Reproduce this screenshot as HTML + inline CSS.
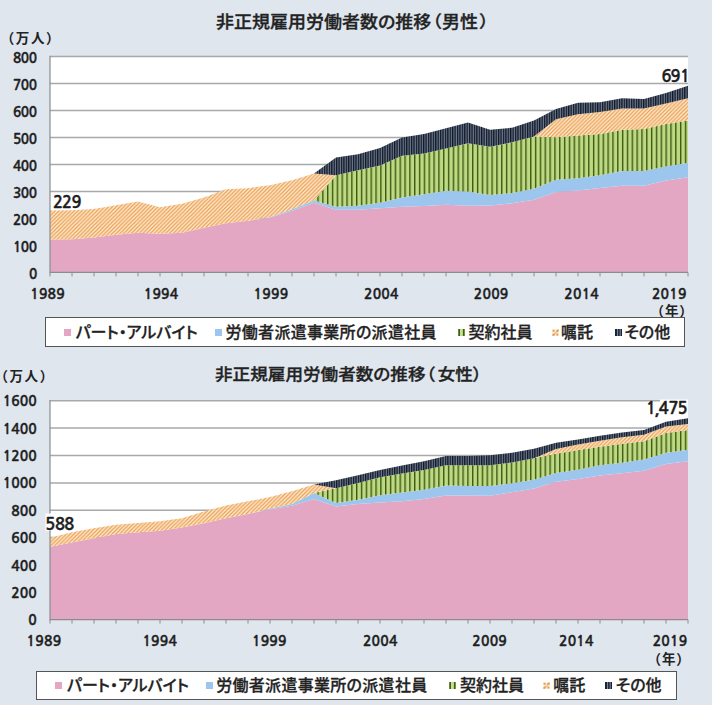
<!DOCTYPE html>
<html><head><meta charset="utf-8"><style>
html,body{margin:0;padding:0;background:#dfe6ee;}
body{width:712px;height:705px;overflow:hidden;position:relative;}
svg{position:absolute;left:0;top:0;}
.t{position:absolute;white-space:nowrap;font-family:'Liberation Sans','Noto Sans CJK JP',sans-serif;color:#222;line-height:1;}
.title{font-size:18px;font-weight:500;-webkit-text-stroke:0.35px #222;font-feature-settings:"palt";transform:scaleY(0.92);transform-origin:0 50%;}
.unit{font-size:13.5px;font-weight:bold;letter-spacing:1.6px;}
.leg{position:absolute;background:#fff;border:1.5px solid #555;box-sizing:border-box;}
.li{font-size:16px;font-weight:500;-webkit-text-stroke:0.3px #222;font-feature-settings:"palt";}
.mk{position:absolute;width:7px;height:7px;}
</style></head><body>
<svg width="712" height="705" viewBox="0 0 712 705">
<defs>
<pattern id="pg" x="3.06" y="0" width="4.835" height="10" patternUnits="userSpaceOnUse">
<rect width="4.835" height="10" fill="#bfd982"/><rect x="0" width="1.4" height="10" fill="#3a5914"/></pattern>
<pattern id="pn" x="0" y="0" width="2.4175" height="10" patternUnits="userSpaceOnUse">
<rect width="2.4175" height="10" fill="#111827"/><rect x="1.3" width="1.1" height="10" fill="#6e7b8e"/></pattern>
<pattern id="ph" x="0" y="0" width="3.8" height="3.8" patternUnits="userSpaceOnUse">
<rect width="3.8" height="3.8" fill="#fff0d6"/>
<path d="M-1,4.8 L4.8,-1 M-1,1 L1,-1 M2.8,4.8 L4.8,2.8" stroke="#eba25a" stroke-width="1.45"/></pattern>
</defs>
<rect width="712" height="705" fill="#dfe6ee"/>
<rect x="50" y="56.4" width="638" height="215.99999999999997" fill="#fff"/>
<line x1="50" y1="245.6" x2="688" y2="245.6" stroke="#a9a9a9" stroke-width="1.5"/>
<line x1="50" y1="218.6" x2="688" y2="218.6" stroke="#a9a9a9" stroke-width="1.5"/>
<line x1="50" y1="191.6" x2="688" y2="191.6" stroke="#a9a9a9" stroke-width="1.5"/>
<line x1="50" y1="164.6" x2="688" y2="164.6" stroke="#a9a9a9" stroke-width="1.5"/>
<line x1="50" y1="137.6" x2="688" y2="137.6" stroke="#a9a9a9" stroke-width="1.5"/>
<line x1="50" y1="110.6" x2="688" y2="110.6" stroke="#a9a9a9" stroke-width="1.5"/>
<line x1="50" y1="83.6" x2="688" y2="83.6" stroke="#a9a9a9" stroke-width="1.5"/>
<line x1="50" y1="56.6" x2="688" y2="56.6" stroke="#a9a9a9" stroke-width="1.5"/>
<path d="M50.0,239.46 L72.0,239.19 L94.0,237.57 L116.0,234.87 L138.0,232.71 L160.0,233.79 L182.0,232.71 L204.0,227.85 L226.0,223.26 L248.0,220.83 L270.0,217.59 L292.0,210.84 L314.0,202.74 L336.0,209.76 L358.0,209.76 L380.0,208.14 L402.0,206.79 L424.0,205.98 L446.0,204.63 L468.0,205.71 L490.0,205.44 L512.0,203.28 L534.0,199.77 L556.0,191.94 L578.0,190.59 L600.0,187.89 L622.0,185.73 L644.0,185.73 L666.0,180.60 L688.0,177.36 L688.0,272.40 L666.0,272.40 L644.0,272.40 L622.0,272.40 L600.0,272.40 L578.0,272.40 L556.0,272.40 L534.0,272.40 L512.0,272.40 L490.0,272.40 L468.0,272.40 L446.0,272.40 L424.0,272.40 L402.0,272.40 L380.0,272.40 L358.0,272.40 L336.0,272.40 L314.0,272.40 L292.0,272.40 L270.0,272.40 L248.0,272.40 L226.0,272.40 L204.0,272.40 L182.0,272.40 L160.0,272.40 L138.0,272.40 L116.0,272.40 L94.0,272.40 L72.0,272.40 L50.0,272.40 Z" fill="#e4a7c3"/>
<path d="M50.0,239.46 L72.0,239.19 L94.0,237.57 L116.0,234.87 L138.0,232.71 L160.0,233.79 L182.0,232.71 L204.0,227.85 L226.0,223.26 L248.0,220.83 L270.0,217.05 L292.0,209.22 L314.0,200.58 L336.0,206.79 L358.0,205.71 L380.0,202.74 L402.0,197.61 L424.0,194.37 L446.0,190.86 L468.0,191.40 L490.0,194.91 L512.0,193.02 L534.0,188.70 L556.0,179.79 L578.0,178.17 L600.0,175.20 L622.0,170.88 L644.0,170.88 L666.0,166.56 L688.0,162.78 L688.0,177.36 L666.0,180.60 L644.0,185.73 L622.0,185.73 L600.0,187.89 L578.0,190.59 L556.0,191.94 L534.0,199.77 L512.0,203.28 L490.0,205.44 L468.0,205.71 L446.0,204.63 L424.0,205.98 L402.0,206.79 L380.0,208.14 L358.0,209.76 L336.0,209.76 L314.0,202.74 L292.0,210.84 L270.0,217.59 L248.0,220.83 L226.0,223.26 L204.0,227.85 L182.0,232.71 L160.0,233.79 L138.0,232.71 L116.0,234.87 L94.0,237.57 L72.0,239.19 L50.0,239.46 Z" fill="#9dc6ee"/>
<path d="M50.0,239.46 L72.0,239.19 L94.0,237.57 L116.0,234.87 L138.0,232.71 L160.0,233.79 L182.0,232.71 L204.0,227.85 L226.0,223.26 L248.0,220.83 L270.0,217.05 L292.0,209.22 L314.0,200.58 L336.0,175.20 L358.0,170.34 L380.0,165.48 L402.0,155.76 L424.0,153.60 L446.0,148.47 L468.0,143.34 L490.0,146.85 L512.0,142.26 L534.0,136.59 L556.0,137.13 L578.0,135.51 L600.0,133.89 L622.0,129.84 L644.0,129.03 L666.0,123.90 L688.0,120.39 L688.0,162.78 L666.0,166.56 L644.0,170.88 L622.0,170.88 L600.0,175.20 L578.0,178.17 L556.0,179.79 L534.0,188.70 L512.0,193.02 L490.0,194.91 L468.0,191.40 L446.0,190.86 L424.0,194.37 L402.0,197.61 L380.0,202.74 L358.0,205.71 L336.0,206.79 L314.0,200.58 L292.0,209.22 L270.0,217.05 L248.0,220.83 L226.0,223.26 L204.0,227.85 L182.0,232.71 L160.0,233.79 L138.0,232.71 L116.0,234.87 L94.0,237.57 L72.0,239.19 L50.0,239.46 Z" fill="url(#pg)"/>
<path d="M50.0,210.57 L72.0,210.30 L94.0,208.95 L116.0,205.17 L138.0,201.39 L160.0,207.33 L182.0,203.82 L204.0,197.61 L226.0,189.24 L248.0,188.16 L270.0,185.19 L292.0,180.33 L314.0,173.58 L336.0,175.20 L358.0,170.34 L380.0,165.48 L402.0,155.76 L424.0,153.60 L446.0,148.47 L468.0,143.34 L490.0,146.85 L512.0,142.26 L534.0,136.59 L556.0,119.31 L578.0,114.18 L600.0,112.02 L622.0,108.51 L644.0,108.51 L666.0,103.38 L688.0,98.25 L688.0,120.39 L666.0,123.90 L644.0,129.03 L622.0,129.84 L600.0,133.89 L578.0,135.51 L556.0,137.13 L534.0,136.59 L512.0,142.26 L490.0,146.85 L468.0,143.34 L446.0,148.47 L424.0,153.60 L402.0,155.76 L380.0,165.48 L358.0,170.34 L336.0,175.20 L314.0,200.58 L292.0,209.22 L270.0,217.05 L248.0,220.83 L226.0,223.26 L204.0,227.85 L182.0,232.71 L160.0,233.79 L138.0,232.71 L116.0,234.87 L94.0,237.57 L72.0,239.19 L50.0,239.46 Z" fill="url(#ph)"/>
<path d="M50.0,210.57 L72.0,210.30 L94.0,208.95 L116.0,205.17 L138.0,201.39 L160.0,207.33 L182.0,203.82 L204.0,197.61 L226.0,189.24 L248.0,188.16 L270.0,185.19 L292.0,180.33 L314.0,173.58 L336.0,157.38 L358.0,154.14 L380.0,147.93 L402.0,137.40 L424.0,133.89 L446.0,128.22 L468.0,122.55 L490.0,129.84 L512.0,127.68 L534.0,120.39 L556.0,109.05 L578.0,102.84 L600.0,102.30 L622.0,98.25 L644.0,99.06 L666.0,93.12 L688.0,85.83 L688.0,98.25 L666.0,103.38 L644.0,108.51 L622.0,108.51 L600.0,112.02 L578.0,114.18 L556.0,119.31 L534.0,136.59 L512.0,142.26 L490.0,146.85 L468.0,143.34 L446.0,148.47 L424.0,153.60 L402.0,155.76 L380.0,165.48 L358.0,170.34 L336.0,175.20 L314.0,173.58 L292.0,180.33 L270.0,185.19 L248.0,188.16 L226.0,189.24 L204.0,197.61 L182.0,203.82 L160.0,207.33 L138.0,201.39 L116.0,205.17 L94.0,208.95 L72.0,210.30 L50.0,210.57 Z" fill="url(#pn)"/>
<line x1="50" y1="55.8" x2="50" y2="273.0" stroke="#8c8c8c" stroke-width="1.2"/>
<line x1="50" y1="272.4" x2="688" y2="272.4" stroke="#8c8c8c" stroke-width="1.2"/>
<line x1="50.0" y1="272.4" x2="50.0" y2="276.4" stroke="#8c8c8c" stroke-width="1"/>
<line x1="72.0" y1="272.4" x2="72.0" y2="276.4" stroke="#8c8c8c" stroke-width="1"/>
<line x1="94.0" y1="272.4" x2="94.0" y2="276.4" stroke="#8c8c8c" stroke-width="1"/>
<line x1="116.0" y1="272.4" x2="116.0" y2="276.4" stroke="#8c8c8c" stroke-width="1"/>
<line x1="138.0" y1="272.4" x2="138.0" y2="276.4" stroke="#8c8c8c" stroke-width="1"/>
<line x1="160.0" y1="272.4" x2="160.0" y2="276.4" stroke="#8c8c8c" stroke-width="1"/>
<line x1="182.0" y1="272.4" x2="182.0" y2="276.4" stroke="#8c8c8c" stroke-width="1"/>
<line x1="204.0" y1="272.4" x2="204.0" y2="276.4" stroke="#8c8c8c" stroke-width="1"/>
<line x1="226.0" y1="272.4" x2="226.0" y2="276.4" stroke="#8c8c8c" stroke-width="1"/>
<line x1="248.0" y1="272.4" x2="248.0" y2="276.4" stroke="#8c8c8c" stroke-width="1"/>
<line x1="270.0" y1="272.4" x2="270.0" y2="276.4" stroke="#8c8c8c" stroke-width="1"/>
<line x1="292.0" y1="272.4" x2="292.0" y2="276.4" stroke="#8c8c8c" stroke-width="1"/>
<line x1="314.0" y1="272.4" x2="314.0" y2="276.4" stroke="#8c8c8c" stroke-width="1"/>
<line x1="336.0" y1="272.4" x2="336.0" y2="276.4" stroke="#8c8c8c" stroke-width="1"/>
<line x1="358.0" y1="272.4" x2="358.0" y2="276.4" stroke="#8c8c8c" stroke-width="1"/>
<line x1="380.0" y1="272.4" x2="380.0" y2="276.4" stroke="#8c8c8c" stroke-width="1"/>
<line x1="402.0" y1="272.4" x2="402.0" y2="276.4" stroke="#8c8c8c" stroke-width="1"/>
<line x1="424.0" y1="272.4" x2="424.0" y2="276.4" stroke="#8c8c8c" stroke-width="1"/>
<line x1="446.0" y1="272.4" x2="446.0" y2="276.4" stroke="#8c8c8c" stroke-width="1"/>
<line x1="468.0" y1="272.4" x2="468.0" y2="276.4" stroke="#8c8c8c" stroke-width="1"/>
<line x1="490.0" y1="272.4" x2="490.0" y2="276.4" stroke="#8c8c8c" stroke-width="1"/>
<line x1="512.0" y1="272.4" x2="512.0" y2="276.4" stroke="#8c8c8c" stroke-width="1"/>
<line x1="534.0" y1="272.4" x2="534.0" y2="276.4" stroke="#8c8c8c" stroke-width="1"/>
<line x1="556.0" y1="272.4" x2="556.0" y2="276.4" stroke="#8c8c8c" stroke-width="1"/>
<line x1="578.0" y1="272.4" x2="578.0" y2="276.4" stroke="#8c8c8c" stroke-width="1"/>
<line x1="600.0" y1="272.4" x2="600.0" y2="276.4" stroke="#8c8c8c" stroke-width="1"/>
<line x1="622.0" y1="272.4" x2="622.0" y2="276.4" stroke="#8c8c8c" stroke-width="1"/>
<line x1="644.0" y1="272.4" x2="644.0" y2="276.4" stroke="#8c8c8c" stroke-width="1"/>
<line x1="666.0" y1="272.4" x2="666.0" y2="276.4" stroke="#8c8c8c" stroke-width="1"/>
<line x1="688.0" y1="272.4" x2="688.0" y2="276.4" stroke="#8c8c8c" stroke-width="1"/><rect x="50" y="400.5" width="638" height="219.10000000000002" fill="#fff"/>
<line x1="50" y1="592.4" x2="688" y2="592.4" stroke="#a9a9a9" stroke-width="1.5"/>
<line x1="50" y1="565.0" x2="688" y2="565.0" stroke="#a9a9a9" stroke-width="1.5"/>
<line x1="50" y1="537.6" x2="688" y2="537.6" stroke="#a9a9a9" stroke-width="1.5"/>
<line x1="50" y1="510.2" x2="688" y2="510.2" stroke="#a9a9a9" stroke-width="1.5"/>
<line x1="50" y1="482.9" x2="688" y2="482.9" stroke="#a9a9a9" stroke-width="1.5"/>
<line x1="50" y1="455.5" x2="688" y2="455.5" stroke="#a9a9a9" stroke-width="1.5"/>
<line x1="50" y1="428.1" x2="688" y2="428.1" stroke="#a9a9a9" stroke-width="1.5"/>
<line x1="50" y1="400.7" x2="688" y2="400.7" stroke="#a9a9a9" stroke-width="1.5"/>
<path d="M50.0,546.75 L72.0,542.50 L94.0,538.26 L116.0,534.01 L138.0,532.37 L160.0,530.86 L182.0,527.44 L204.0,523.20 L226.0,518.13 L248.0,513.88 L270.0,509.37 L292.0,505.67 L314.0,498.96 L336.0,506.49 L358.0,504.02 L380.0,502.38 L402.0,501.15 L424.0,499.10 L446.0,495.53 L468.0,495.53 L490.0,495.67 L512.0,492.25 L534.0,488.55 L556.0,481.84 L578.0,478.97 L600.0,475.54 L622.0,473.35 L644.0,470.75 L666.0,463.90 L688.0,461.30 L688.0,619.60 L666.0,619.60 L644.0,619.60 L622.0,619.60 L600.0,619.60 L578.0,619.60 L556.0,619.60 L534.0,619.60 L512.0,619.60 L490.0,619.60 L468.0,619.60 L446.0,619.60 L424.0,619.60 L402.0,619.60 L380.0,619.60 L358.0,619.60 L336.0,619.60 L314.0,619.60 L292.0,619.60 L270.0,619.60 L248.0,619.60 L226.0,619.60 L204.0,619.60 L182.0,619.60 L160.0,619.60 L138.0,619.60 L116.0,619.60 L94.0,619.60 L72.0,619.60 L50.0,619.60 Z" fill="#e4a7c3"/>
<path d="M50.0,546.75 L72.0,542.50 L94.0,538.26 L116.0,534.01 L138.0,532.37 L160.0,530.86 L182.0,527.44 L204.0,523.20 L226.0,518.13 L248.0,513.88 L270.0,508.41 L292.0,503.89 L314.0,493.07 L336.0,502.93 L358.0,499.78 L380.0,495.26 L402.0,492.52 L424.0,489.78 L446.0,485.54 L468.0,486.09 L490.0,485.95 L512.0,483.35 L534.0,479.79 L556.0,472.94 L578.0,469.65 L600.0,465.13 L622.0,462.67 L644.0,459.38 L666.0,452.81 L688.0,449.80 L688.0,461.30 L666.0,463.90 L644.0,470.75 L622.0,473.35 L600.0,475.54 L578.0,478.97 L556.0,481.84 L534.0,488.55 L512.0,492.25 L490.0,495.67 L468.0,495.53 L446.0,495.53 L424.0,499.10 L402.0,501.15 L380.0,502.38 L358.0,504.02 L336.0,506.49 L314.0,498.96 L292.0,505.67 L270.0,509.37 L248.0,513.88 L226.0,518.13 L204.0,523.20 L182.0,527.44 L160.0,530.86 L138.0,532.37 L116.0,534.01 L94.0,538.26 L72.0,542.50 L50.0,546.75 Z" fill="#9dc6ee"/>
<path d="M50.0,546.75 L72.0,542.50 L94.0,538.26 L116.0,534.01 L138.0,532.37 L160.0,530.86 L182.0,527.44 L204.0,523.20 L226.0,518.13 L248.0,513.88 L270.0,508.41 L292.0,503.89 L314.0,493.07 L336.0,488.14 L358.0,482.94 L380.0,477.32 L402.0,473.62 L424.0,470.06 L446.0,465.27 L468.0,465.27 L490.0,465.13 L512.0,462.40 L534.0,458.29 L556.0,453.63 L578.0,450.07 L600.0,446.65 L622.0,443.64 L644.0,441.17 L666.0,433.09 L688.0,429.94 L688.0,449.80 L666.0,452.81 L644.0,459.38 L622.0,462.67 L600.0,465.13 L578.0,469.65 L556.0,472.94 L534.0,479.79 L512.0,483.35 L490.0,485.95 L468.0,486.09 L446.0,485.54 L424.0,489.78 L402.0,492.52 L380.0,495.26 L358.0,499.78 L336.0,502.93 L314.0,493.07 L292.0,503.89 L270.0,508.41 L248.0,513.88 L226.0,518.13 L204.0,523.20 L182.0,527.44 L160.0,530.86 L138.0,532.37 L116.0,534.01 L94.0,538.26 L72.0,542.50 L50.0,546.75 Z" fill="url(#pg)"/>
<path d="M50.0,537.71 L72.0,532.37 L94.0,528.13 L116.0,524.84 L138.0,523.06 L160.0,521.28 L182.0,518.13 L204.0,511.42 L226.0,505.53 L248.0,501.29 L270.0,497.04 L292.0,491.29 L314.0,484.58 L336.0,488.14 L358.0,482.94 L380.0,477.32 L402.0,473.62 L424.0,470.06 L446.0,465.27 L468.0,465.27 L490.0,465.13 L512.0,462.40 L534.0,458.29 L556.0,449.11 L578.0,444.59 L600.0,440.76 L622.0,437.34 L644.0,434.87 L666.0,426.52 L688.0,424.05 L688.0,429.94 L666.0,433.09 L644.0,441.17 L622.0,443.64 L600.0,446.65 L578.0,450.07 L556.0,453.63 L534.0,458.29 L512.0,462.40 L490.0,465.13 L468.0,465.27 L446.0,465.27 L424.0,470.06 L402.0,473.62 L380.0,477.32 L358.0,482.94 L336.0,488.14 L314.0,493.07 L292.0,503.89 L270.0,508.41 L248.0,513.88 L226.0,518.13 L204.0,523.20 L182.0,527.44 L160.0,530.86 L138.0,532.37 L116.0,534.01 L94.0,538.26 L72.0,542.50 L50.0,546.75 Z" fill="url(#ph)"/>
<path d="M50.0,537.71 L72.0,532.37 L94.0,528.13 L116.0,524.84 L138.0,523.06 L160.0,521.28 L182.0,518.13 L204.0,511.42 L226.0,505.53 L248.0,501.29 L270.0,497.04 L292.0,491.29 L314.0,484.58 L336.0,480.20 L358.0,475.13 L380.0,469.93 L402.0,465.55 L424.0,461.16 L446.0,455.96 L468.0,455.96 L490.0,455.28 L512.0,452.81 L534.0,448.84 L556.0,442.68 L578.0,439.39 L600.0,435.69 L622.0,432.54 L644.0,429.94 L666.0,421.73 L688.0,418.30 L688.0,424.05 L666.0,426.52 L644.0,434.87 L622.0,437.34 L600.0,440.76 L578.0,444.59 L556.0,449.11 L534.0,458.29 L512.0,462.40 L490.0,465.13 L468.0,465.27 L446.0,465.27 L424.0,470.06 L402.0,473.62 L380.0,477.32 L358.0,482.94 L336.0,488.14 L314.0,484.58 L292.0,491.29 L270.0,497.04 L248.0,501.29 L226.0,505.53 L204.0,511.42 L182.0,518.13 L160.0,521.28 L138.0,523.06 L116.0,524.84 L94.0,528.13 L72.0,532.37 L50.0,537.71 Z" fill="url(#pn)"/>
<line x1="50" y1="399.9" x2="50" y2="620.2" stroke="#8c8c8c" stroke-width="1.2"/>
<line x1="50" y1="619.6" x2="688" y2="619.6" stroke="#8c8c8c" stroke-width="1.2"/>
<line x1="50.0" y1="619.6" x2="50.0" y2="623.6" stroke="#8c8c8c" stroke-width="1"/>
<line x1="72.0" y1="619.6" x2="72.0" y2="623.6" stroke="#8c8c8c" stroke-width="1"/>
<line x1="94.0" y1="619.6" x2="94.0" y2="623.6" stroke="#8c8c8c" stroke-width="1"/>
<line x1="116.0" y1="619.6" x2="116.0" y2="623.6" stroke="#8c8c8c" stroke-width="1"/>
<line x1="138.0" y1="619.6" x2="138.0" y2="623.6" stroke="#8c8c8c" stroke-width="1"/>
<line x1="160.0" y1="619.6" x2="160.0" y2="623.6" stroke="#8c8c8c" stroke-width="1"/>
<line x1="182.0" y1="619.6" x2="182.0" y2="623.6" stroke="#8c8c8c" stroke-width="1"/>
<line x1="204.0" y1="619.6" x2="204.0" y2="623.6" stroke="#8c8c8c" stroke-width="1"/>
<line x1="226.0" y1="619.6" x2="226.0" y2="623.6" stroke="#8c8c8c" stroke-width="1"/>
<line x1="248.0" y1="619.6" x2="248.0" y2="623.6" stroke="#8c8c8c" stroke-width="1"/>
<line x1="270.0" y1="619.6" x2="270.0" y2="623.6" stroke="#8c8c8c" stroke-width="1"/>
<line x1="292.0" y1="619.6" x2="292.0" y2="623.6" stroke="#8c8c8c" stroke-width="1"/>
<line x1="314.0" y1="619.6" x2="314.0" y2="623.6" stroke="#8c8c8c" stroke-width="1"/>
<line x1="336.0" y1="619.6" x2="336.0" y2="623.6" stroke="#8c8c8c" stroke-width="1"/>
<line x1="358.0" y1="619.6" x2="358.0" y2="623.6" stroke="#8c8c8c" stroke-width="1"/>
<line x1="380.0" y1="619.6" x2="380.0" y2="623.6" stroke="#8c8c8c" stroke-width="1"/>
<line x1="402.0" y1="619.6" x2="402.0" y2="623.6" stroke="#8c8c8c" stroke-width="1"/>
<line x1="424.0" y1="619.6" x2="424.0" y2="623.6" stroke="#8c8c8c" stroke-width="1"/>
<line x1="446.0" y1="619.6" x2="446.0" y2="623.6" stroke="#8c8c8c" stroke-width="1"/>
<line x1="468.0" y1="619.6" x2="468.0" y2="623.6" stroke="#8c8c8c" stroke-width="1"/>
<line x1="490.0" y1="619.6" x2="490.0" y2="623.6" stroke="#8c8c8c" stroke-width="1"/>
<line x1="512.0" y1="619.6" x2="512.0" y2="623.6" stroke="#8c8c8c" stroke-width="1"/>
<line x1="534.0" y1="619.6" x2="534.0" y2="623.6" stroke="#8c8c8c" stroke-width="1"/>
<line x1="556.0" y1="619.6" x2="556.0" y2="623.6" stroke="#8c8c8c" stroke-width="1"/>
<line x1="578.0" y1="619.6" x2="578.0" y2="623.6" stroke="#8c8c8c" stroke-width="1"/>
<line x1="600.0" y1="619.6" x2="600.0" y2="623.6" stroke="#8c8c8c" stroke-width="1"/>
<line x1="622.0" y1="619.6" x2="622.0" y2="623.6" stroke="#8c8c8c" stroke-width="1"/>
<line x1="644.0" y1="619.6" x2="644.0" y2="623.6" stroke="#8c8c8c" stroke-width="1"/>
<line x1="666.0" y1="619.6" x2="666.0" y2="623.6" stroke="#8c8c8c" stroke-width="1"/>
<line x1="688.0" y1="619.6" x2="688.0" y2="623.6" stroke="#8c8c8c" stroke-width="1"/><text x="28.88" y="278.60" font-size="13.7" letter-spacing="-0.3" font-family="NanumGothic, Liberation Sans, sans-serif" font-weight="bold" fill="#1e1e1e" stroke="#1e1e1e" stroke-width="0.35">0</text><text x="12.88" y="251.60" font-size="13.7" letter-spacing="-0.3" font-family="NanumGothic, Liberation Sans, sans-serif" font-weight="bold" fill="#1e1e1e" stroke="#1e1e1e" stroke-width="0.35">100</text><text x="12.88" y="224.60" font-size="13.7" letter-spacing="-0.3" font-family="NanumGothic, Liberation Sans, sans-serif" font-weight="bold" fill="#1e1e1e" stroke="#1e1e1e" stroke-width="0.35">200</text><text x="12.88" y="197.60" font-size="13.7" letter-spacing="-0.3" font-family="NanumGothic, Liberation Sans, sans-serif" font-weight="bold" fill="#1e1e1e" stroke="#1e1e1e" stroke-width="0.35">300</text><text x="12.88" y="170.60" font-size="13.7" letter-spacing="-0.3" font-family="NanumGothic, Liberation Sans, sans-serif" font-weight="bold" fill="#1e1e1e" stroke="#1e1e1e" stroke-width="0.35">400</text><text x="12.88" y="143.60" font-size="13.7" letter-spacing="-0.3" font-family="NanumGothic, Liberation Sans, sans-serif" font-weight="bold" fill="#1e1e1e" stroke="#1e1e1e" stroke-width="0.35">500</text><text x="12.88" y="116.60" font-size="13.7" letter-spacing="-0.3" font-family="NanumGothic, Liberation Sans, sans-serif" font-weight="bold" fill="#1e1e1e" stroke="#1e1e1e" stroke-width="0.35">600</text><text x="12.88" y="89.60" font-size="13.7" letter-spacing="-0.3" font-family="NanumGothic, Liberation Sans, sans-serif" font-weight="bold" fill="#1e1e1e" stroke="#1e1e1e" stroke-width="0.35">700</text><text x="12.88" y="62.60" font-size="13.7" letter-spacing="-0.3" font-family="NanumGothic, Liberation Sans, sans-serif" font-weight="bold" fill="#1e1e1e" stroke="#1e1e1e" stroke-width="0.35">800</text><text x="28.22" y="625.30" font-size="14.0" letter-spacing="0.0" font-family="NanumGothic, Liberation Sans, sans-serif" font-weight="bold" fill="#1e1e1e" stroke="#1e1e1e" stroke-width="0.35">0</text><text x="11.25" y="597.91" font-size="14.0" letter-spacing="0.0" font-family="NanumGothic, Liberation Sans, sans-serif" font-weight="bold" fill="#1e1e1e" stroke="#1e1e1e" stroke-width="0.35">200</text><text x="11.25" y="570.53" font-size="14.0" letter-spacing="0.0" font-family="NanumGothic, Liberation Sans, sans-serif" font-weight="bold" fill="#1e1e1e" stroke="#1e1e1e" stroke-width="0.35">400</text><text x="11.25" y="543.14" font-size="14.0" letter-spacing="0.0" font-family="NanumGothic, Liberation Sans, sans-serif" font-weight="bold" fill="#1e1e1e" stroke="#1e1e1e" stroke-width="0.35">600</text><text x="11.25" y="515.75" font-size="14.0" letter-spacing="0.0" font-family="NanumGothic, Liberation Sans, sans-serif" font-weight="bold" fill="#1e1e1e" stroke="#1e1e1e" stroke-width="0.35">800</text><text x="2.76" y="488.36" font-size="14.0" letter-spacing="0.0" font-family="NanumGothic, Liberation Sans, sans-serif" font-weight="bold" fill="#1e1e1e" stroke="#1e1e1e" stroke-width="0.35">1000</text><text x="2.76" y="460.98" font-size="14.0" letter-spacing="0.0" font-family="NanumGothic, Liberation Sans, sans-serif" font-weight="bold" fill="#1e1e1e" stroke="#1e1e1e" stroke-width="0.35">1200</text><text x="2.76" y="433.59" font-size="14.0" letter-spacing="0.0" font-family="NanumGothic, Liberation Sans, sans-serif" font-weight="bold" fill="#1e1e1e" stroke="#1e1e1e" stroke-width="0.35">1400</text><text x="2.76" y="406.20" font-size="14.0" letter-spacing="0.0" font-family="NanumGothic, Liberation Sans, sans-serif" font-weight="bold" fill="#1e1e1e" stroke="#1e1e1e" stroke-width="0.35">1600</text><text x="30.21" y="299.10" font-size="14.0" letter-spacing="0.2" font-family="NanumGothic, Liberation Sans, sans-serif" font-weight="bold" fill="#1e1e1e" stroke="#1e1e1e" stroke-width="0.35">1989</text><text x="143.71" y="299.10" font-size="14.0" letter-spacing="0.2" font-family="NanumGothic, Liberation Sans, sans-serif" font-weight="bold" fill="#1e1e1e" stroke="#1e1e1e" stroke-width="0.35">1994</text><text x="253.61" y="299.10" font-size="14.0" letter-spacing="0.2" font-family="NanumGothic, Liberation Sans, sans-serif" font-weight="bold" fill="#1e1e1e" stroke="#1e1e1e" stroke-width="0.35">1999</text><text x="364.00" y="299.10" font-size="14.0" letter-spacing="0.2" font-family="NanumGothic, Liberation Sans, sans-serif" font-weight="bold" fill="#1e1e1e" stroke="#1e1e1e" stroke-width="0.35">2004</text><text x="473.80" y="299.10" font-size="14.0" letter-spacing="0.2" font-family="NanumGothic, Liberation Sans, sans-serif" font-weight="bold" fill="#1e1e1e" stroke="#1e1e1e" stroke-width="0.35">2009</text><text x="564.30" y="299.10" font-size="14.0" letter-spacing="0.2" font-family="NanumGothic, Liberation Sans, sans-serif" font-weight="bold" fill="#1e1e1e" stroke="#1e1e1e" stroke-width="0.35">2014</text><text x="651.90" y="299.10" font-size="14.0" letter-spacing="0.2" font-family="NanumGothic, Liberation Sans, sans-serif" font-weight="bold" fill="#1e1e1e" stroke="#1e1e1e" stroke-width="0.35">2019</text><text x="26.61" y="646.10" font-size="14.0" letter-spacing="0.2" font-family="NanumGothic, Liberation Sans, sans-serif" font-weight="bold" fill="#1e1e1e" stroke="#1e1e1e" stroke-width="0.35">1989</text><text x="142.41" y="646.10" font-size="14.0" letter-spacing="0.2" font-family="NanumGothic, Liberation Sans, sans-serif" font-weight="bold" fill="#1e1e1e" stroke="#1e1e1e" stroke-width="0.35">1994</text><text x="252.01" y="646.10" font-size="14.0" letter-spacing="0.2" font-family="NanumGothic, Liberation Sans, sans-serif" font-weight="bold" fill="#1e1e1e" stroke="#1e1e1e" stroke-width="0.35">1999</text><text x="362.90" y="646.10" font-size="14.0" letter-spacing="0.2" font-family="NanumGothic, Liberation Sans, sans-serif" font-weight="bold" fill="#1e1e1e" stroke="#1e1e1e" stroke-width="0.35">2004</text><text x="472.30" y="646.10" font-size="14.0" letter-spacing="0.2" font-family="NanumGothic, Liberation Sans, sans-serif" font-weight="bold" fill="#1e1e1e" stroke="#1e1e1e" stroke-width="0.35">2009</text><text x="559.00" y="646.10" font-size="14.0" letter-spacing="0.2" font-family="NanumGothic, Liberation Sans, sans-serif" font-weight="bold" fill="#1e1e1e" stroke="#1e1e1e" stroke-width="0.35">2014</text><text x="652.70" y="646.10" font-size="14.0" letter-spacing="0.2" font-family="NanumGothic, Liberation Sans, sans-serif" font-weight="bold" fill="#1e1e1e" stroke="#1e1e1e" stroke-width="0.35">2019</text><rect x="45.5" y="513.5" width="30" height="17.5" fill="#fff"/><rect x="660" y="399.5" width="28" height="16" fill="#fff"/><text x="52.96 61.96 71.46" y="207.9" font-size="16.5" font-family="NanumGothic, Liberation Sans, sans-serif" font-weight="bold" fill="#1e1e1e" stroke="#1e1e1e" stroke-width="0.35">229</text><text x="661.56 670.46 679.89" y="82.3" font-size="16.5" font-family="NanumGothic, Liberation Sans, sans-serif" font-weight="bold" fill="#1e1e1e" stroke="#1e1e1e" stroke-width="0.35">691</text><text x="45.20 54.93 64.13" y="529.6" font-size="16.5" font-family="NanumGothic, Liberation Sans, sans-serif" font-weight="bold" fill="#1e1e1e" stroke="#1e1e1e" stroke-width="0.35">588</text><text x="645.89 654.59 658.75 668.53 677.40" y="414.1" font-size="16.5" font-family="NanumGothic, Liberation Sans, sans-serif" font-weight="bold" fill="#1e1e1e" stroke="#1e1e1e" stroke-width="0.35">1,475</text></svg>
<div class="t title" style="left:216px;top:13.3px;">非正規雇用労働者数の推移<span style="margin-left:1px">（</span><span style="margin-left:0.6px">男性</span><span style="margin-left:1.8px">）</span></div>
<div class="t title" style="left:215px;top:366.3px;font-size:17.6px;">非正規雇用労働者数の推移<span style="margin-left:0.7px">（</span><span style="margin-left:2.7px">女性</span>）</div>
<div class="t unit" style="left:0.7px;top:32px;">（万人）</div>
<div class="t unit" style="left:-5.6px;top:370px;">（万人）</div>
<div class="t unit" style="left:650.5px;top:305px;letter-spacing:0.9px;">（年）</div>
<div class="t unit" style="left:647.5px;top:652.8px;letter-spacing:0.9px;">（年）</div>
<div class="leg" style="left:44.8px;top:317px;width:640.5px;height:29.5px;"></div>
<div class="leg" style="left:36px;top:670.5px;width:640.5px;height:29.5px;"></div>
<div class="mk" style="left:64px;top:328.5px;background:#e4a7c3;"></div>
<div class="t li" style="left:75.7px;top:324.7px;letter-spacing:-0.05px;">パート・アルバイト</div>
<div class="mk" style="left:215px;top:328.5px;background:#9dc6ee;"></div>
<div class="t li" style="left:225.5px;top:324.7px;letter-spacing:0.3px;">労働者派遣事業所の派遣社員</div>
<svg class="mk" style="left:458px;top:328.5px;" width="7" height="7"><rect width="7" height="7" fill="#c6e08e"/><rect x="0.3" width="1.7" height="7" fill="#3f6018"/><rect x="4.9" width="1.7" height="7" fill="#3f6018"/></svg>
<div class="t li" style="left:468.5px;top:324.7px;letter-spacing:0px;">契約社員</div>
<svg class="mk" style="left:552px;top:328.5px;" width="7" height="7"><rect width="7" height="7" fill="#fff3e0"/><path d="M0.5,7 L7,0.5" stroke="#f6c48e" stroke-width="2"/><rect x="0.6" y="0.8" width="2" height="2" fill="#d9a064"/><rect x="4.4" y="0.8" width="2" height="2" fill="#d9a064"/><rect x="0.6" y="4.6" width="2" height="2" fill="#d9a064"/><rect x="4.4" y="4.6" width="2" height="2" fill="#d9a064"/></svg>
<div class="t li" style="left:561px;top:324.7px;letter-spacing:0px;">嘱託</div>
<svg class="mk" style="left:614.6px;top:328.5px;" width="7" height="7"><rect width="7" height="7" fill="#1a2233"/><rect x="2" width="1.1" height="7" fill="#7d8aa0"/><rect x="4.6" width="1.1" height="7" fill="#7d8aa0"/></svg>
<div class="t li" style="left:624.4px;top:324.7px;letter-spacing:0px;">その他</div>
<div class="mk" style="left:55px;top:682.0px;background:#e4a7c3;"></div>
<div class="t li" style="left:67px;top:678.2px;letter-spacing:-0.05px;">パート・アルバイト</div>
<div class="mk" style="left:206px;top:682.0px;background:#9dc6ee;"></div>
<div class="t li" style="left:216.2px;top:678.2px;letter-spacing:0.3px;">労働者派遣事業所の派遣社員</div>
<svg class="mk" style="left:449px;top:682.0px;" width="7" height="7"><rect width="7" height="7" fill="#c6e08e"/><rect x="0.3" width="1.7" height="7" fill="#3f6018"/><rect x="4.9" width="1.7" height="7" fill="#3f6018"/></svg>
<div class="t li" style="left:459.9px;top:678.2px;letter-spacing:0px;">契約社員</div>
<svg class="mk" style="left:543.4px;top:682.0px;" width="7" height="7"><rect width="7" height="7" fill="#fff3e0"/><path d="M0.5,7 L7,0.5" stroke="#f6c48e" stroke-width="2"/><rect x="0.6" y="0.8" width="2" height="2" fill="#d9a064"/><rect x="4.4" y="0.8" width="2" height="2" fill="#d9a064"/><rect x="0.6" y="4.6" width="2" height="2" fill="#d9a064"/><rect x="4.4" y="4.6" width="2" height="2" fill="#d9a064"/></svg>
<div class="t li" style="left:553.3px;top:678.2px;letter-spacing:0px;">嘱託</div>
<svg class="mk" style="left:604.7px;top:682.0px;" width="7" height="7"><rect width="7" height="7" fill="#1a2233"/><rect x="2" width="1.1" height="7" fill="#7d8aa0"/><rect x="4.6" width="1.1" height="7" fill="#7d8aa0"/></svg>
<div class="t li" style="left:615.7px;top:678.2px;letter-spacing:0px;">その他</div>
</body></html>
